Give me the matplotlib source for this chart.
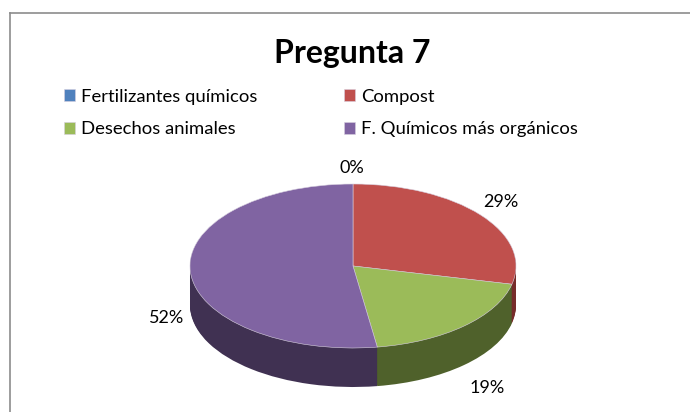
import matplotlib
matplotlib.use("Agg")
import matplotlib.pyplot as plt
from matplotlib.lines import Line2D

plt.rcParams['font.family'] = ['Lato', 'DejaVu Sans']

W, H = 690, 412

# chart values (answers per option, the labels show them as rounded percents)
categories = ['Fertilizantes químicos', 'Compost', 'Desechos animales', 'F. Químicos más orgánicos']
values = [0, 6, 4, 11]
top_colors = ['#4F81BD', '#C0504D', '#9BBB59', '#8064A2']
side_colors = ['#2A4464', '#772C2A', '#4F612B', '#403152']
title = 'Pregunta 7'

# pie ellipse in pixels
cx, cy, rx, ry = 353, 266, 163, 82
depth = 39 / ry


def px(x, y):
    # pixel position (top-left origin) to figure fraction
    return x / W, 1 - y / H


fig = plt.figure(figsize=(W / 100, H / 100), dpi=100)
ax = fig.add_axes([(cx - rx) / W, 1 - (cy + ry + 39) / H, 2 * rx / W, (2 * ry + 39) / H])

# side wall, stacked from the bottom up
steps = 40
for k in range(steps, 0, -1):
    ax.pie(values, startangle=90, counterclock=False, colors=side_colors,
           center=(0, -depth * k / steps), wedgeprops={'linewidth': 0})

wedges, _ = ax.pie(values, startangle=90, counterclock=False, colors=top_colors,
                   wedgeprops={'linewidth': 0.4, 'edgecolor': '#D8D0E0'})

ax.set_aspect('auto')
ax.set_xlim(-1, 1)
ax.set_ylim(-1 - depth, 1)
ax.axis('off')

# percent labels
total = sum(values)
label_pos = [(352, 168), (501, 202), (487, 388), (167, 318)]
for v, (x, y) in zip(values, label_pos):
    fig.text(*px(x, y), f'{round(100 * v / total)}%', ha='center', va='center', fontsize=13, color='black')

fig.text(*px(352, 53), title, ha='center', va='center', fontsize=23, fontweight='bold', color='black')

# legend fills by column, so swap the middle two to read row by row
order = [0, 2, 1, 3]
fig.legend([wedges[i] for i in order], [categories[i] for i in order], ncol=2, loc='upper left',
           bbox_to_anchor=px(49, 74), frameon=False, fontsize=13.3,
           handlelength=0.62, handleheight=0.62, handletextpad=0.33,
           columnspacing=4.65, labelspacing=0.88, borderpad=0.3)

# chart frame, cut off by the image on the right and at the bottom
fig.add_artist(Line2D([9.5 / W, 9.5 / W], [0, 1 - 12.5 / H], color='#8C8C8C', lw=1.2))
fig.add_artist(Line2D([9.5 / W, 1], [1 - 12.5 / H, 1 - 12.5 / H], color='#8C8C8C', lw=1.2))

fig.savefig('out.png', dpi=100)
